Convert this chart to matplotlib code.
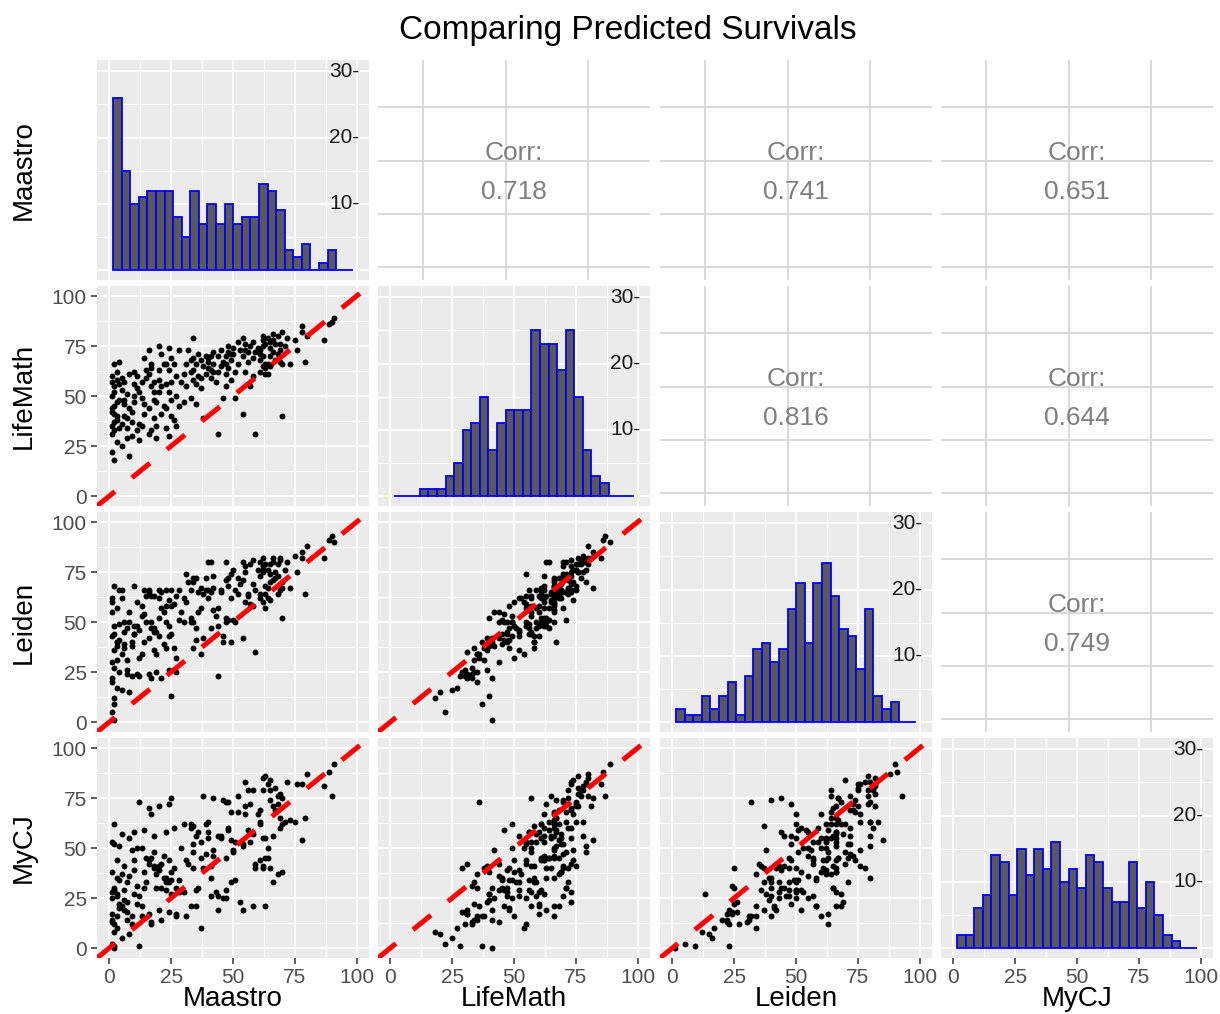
import matplotlib
matplotlib.use('Agg')
import matplotlib.pyplot as plt
import numpy as np
from matplotlib.ticker import MultipleLocator, FixedLocator

plt.rcParams['font.family'] = ['Liberation Sans', 'DejaVu Sans']

# ---------------- data ----------------
variables = ['Maastro', 'LifeMath', 'Leiden', 'MyCJ']

maastro = [1,2,1,3,2,1,2,3,1,2,4,3,2,1,4,2,3,1,2,4,1,3,2,4,1,3,
           5,6,7,5,8,6,7,5,6,8,7,5,6,8,7,
           9,10,11,9,10,11,9,10,11,10,
           12,13,14,12,13,14,15,12,13,14,15,
           16,17,18,16,17,18,16,17,18,16,17,18,
           19,20,21,19,20,21,22,19,20,21,22,20,
           23,24,25,23,24,25,23,24,25,23,24,25,
           26,27,28,26,27,28,29,27,
           30,31,30,32,31,
           33,34,35,33,34,35,36,33,34,35,36,34,
           37,38,37,38,39,37,39,
           40,41,42,40,41,42,43,40,41,42,
           44,45,44,46,45,44,46,
           47,48,47,48,49,47,48,49,47,49,
           50,51,52,50,52,51,53,
           54,55,54,56,55,54,56,55,
           57,58,59,58,57,60,59,58,
           61,62,63,61,62,63,61,62,63,62,61,63,62,
           64,65,66,64,65,66,64,65,67,66,65,67,
           68,69,70,68,69,70,68,69,70,
           71,72,73,
           75,76,
           78,79,80,78,
           87,89,90,91]

lifemath = [22,18,35,40,45,50,55,58,60,66,67,38,33,42,48,52,27,31,37,56,44,62,41,34,57,47,
            36,46,29,53,61,40,51,25,57,44,34,59,48,20,39,
            42,56,60,30,47,54,37,62,33,50,
            36,49,69,28,57,41,63,52,35,46,59,
            61,33,52,44,66,39,73,55,48,31,64,57,
            35,75,55,47,63,41,66,29,52,71,45,58,
            34,63,48,56,74,40,66,30,57,44,52,69,
            38,60,45,66,50,73,57,35,
            61,55,47,73,66,
            62,79,56,68,58,66,71,49,63,46,60,69,
            54,65,68,39,61,59,70,
            64,70,62,67,59,72,57,69,63,66,
            31,65,70,49,73,62,67,
            70,64,55,72,68,61,75,58,66,71,
            74,49,66,71,77,62,73,
            41,73,70,67,76,79,72,62,
            75,60,72,77,55,74,31,69,
            62,78,66,71,75,61,73,80,64,70,68,76,65,
            79,70,72,66,77,81,61,74,68,78,65,76,
            71,67,40,80,73,82,68,76,66,
            75,79,66,
            78,73,
            82,67,80,85,
            78,86,87,89]

leiden = [5,12,20,38,44,60,48,40,43,68,66,31,27,55,41,36,17,22,9,49,30,57,1,25,62,40,
          34,50,24,62,50,39,47,16,45,55,31,66,37,15,26,
          38,44,48,23,44,60,40,68,24,48,
          32,53,66,23,58,40,63,46,34,54,50,
          66,22,45,42,50,36,65,63,47,24,47,63,
          34,66,57,45,52,22,55,25,62,65,39,43,
          37,48,58,66,61,13,58,26,44,50,43,66,
          37,63,51,59,32,66,55,25,
          62,74,50,70,60,
          52,70,47,66,37,72,65,50,50,41,55,72,
          34,64,67,42,66,57,72,
          80,65,73,66,47,67,53,62,80,56,
          23,65,57,43,66,48,40,
          80,51,50,72,62,52,68,40,71,74,
          76,50,64,51,72,66,69,
          42,78,71,63,75,80,64,60,
          79,58,66,81,59,76,35,69,
          62,75,68,80,76,64,73,82,57,78,64,79,60,
          76,74,71,62,79,82,67,70,72,80,61,75,
          73,66,52,79,81,67,64,82,70,
          76,80,67,
          83,75,
          85,64,88,82,
          82,91,93,90]

mycj = [2,8,14,27,30,38,52,35,28,62,51,16,12,25,20,29,10,17,1,34,13,44,0,22,53,26,
        21,29,18,37,55,24,33,5,41,36,14,57,19,7,23,
        49,58,22,12,39,50,16,27,31,44,
        73,50,38,1,21,30,45,26,16,59,33,
        44,13,56,42,67,41,70,12,40,17,45,48,
        37,71,42,30,19,14,46,40,39,30,35,41,
        33,72,34,58,44,27,35,18,75,29,33,38,
        40,17,34,60,16,28,50,30,
        62,44,28,42,16,
        60,48,29,21,61,56,30,62,40,21,58,52,
        10,76,45,40,62,53,47,
        63,41,46,58,26,75,28,55,35,49,
        19,56,26,25,55,56,74,
        73,59,25,60,54,29,73,33,45,68,
        49,34,68,48,76,53,23,
        19,83,52,59,71,51,79,67,
        72,21,40,79,53,67,42,57,
        44,79,21,63,41,55,69,85,45,40,62,86,55,
        82,74,33,50,79,71,45,84,69,56,40,80,
        72,65,38,76,60,75,37,77,62,
        63,83,64,
        63,82,
        54,65,87,82,
        81,88,76,92]

# histogram bin counts
hist_maastro = [26,15,10,11,12,12,12,8,5,12,7,10,7,10,7,8,8,13,12,9,3,2,4,0,1,3,0,0]
hist_lifemath = [0,0,0,1,1,1,3,5,10,11,15,7,11,13,13,13,25,23,23,19,25,15,7,3,2,0,0,0]
hist_leiden = [2,1,1,4,2,4,6,1,7,11,12,9,11,17,21,12,21,24,19,14,13,8,17,4,2,3,0,0]
hist_mycj = [2,2,6,8,14,13,8,15,11,15,12,16,10,12,9,14,13,9,7,7,13,6,10,5,2,1,0,0]
bin_start = 1.5
bin_width = 3.47

# correlations (upper triangle, row-major)
corr_pairs = [(0, 1), (0, 2), (0, 3), (1, 2), (1, 3), (2, 3)]
corr_labels = ['0.718', '0.741', '0.651', '0.816', '0.644', '0.749']

hist_ticks = [10, 20, 30]
title = 'Comparing Predicted Survivals'

# ---------------- layout ----------------
W, H = 1220, 1014
fig = plt.figure(figsize=(W / 100, H / 100), dpi=100)
col_left = [97, 378, 660, 941]
row_top = [60, 286, 512, 738]
pw, ph = 272, 220
PANEL_BG = '#EBEBEB'
TICK_COLOR = '#333333'
LABEL_COLOR = '#4d4d4d'

data = [maastro, lifemath, leiden, mycj]
hists = [hist_maastro, hist_lifemath, hist_leiden, hist_mycj]
corr_map = dict(zip(corr_pairs, corr_labels))


def add_ax(r, c):
    x0 = col_left[c]
    y0 = row_top[r]
    return fig.add_axes([x0 / W, 1 - (y0 + ph) / H, pw / W, ph / H])


def style_gg(ax):
    ax.set_facecolor(PANEL_BG)
    for sp in ax.spines.values():
        sp.set_visible(False)
    ax.set_axisbelow(True)
    ax.grid(which='major', color='white', linewidth=1.3)
    ax.grid(which='minor', color='white', linewidth=0.65)
    ax.tick_params(axis='both', which='major', length=4.3, width=1.1,
                   color=TICK_COLOR, labelsize=15, labelcolor=LABEL_COLOR, pad=3)
    ax.tick_params(axis='both', which='minor', length=0)


for r in range(4):
    for c in range(4):
        ax = add_ax(r, c)
        if r > c:
            style_gg(ax)
            ax.set_xlim(-5, 105)
            ax.set_ylim(-5, 105)
            ax.xaxis.set_major_locator(MultipleLocator(25))
            ax.xaxis.set_minor_locator(MultipleLocator(12.5))
            ax.yaxis.set_major_locator(MultipleLocator(25))
            ax.yaxis.set_minor_locator(MultipleLocator(12.5))
            ax.scatter(data[c], data[r], s=18, color='black', linewidths=0, zorder=3)
            ax.axline((0, 0), slope=1, color='#FF0000', linewidth=3.6,
                      linestyle=(0, (4.6, 4.4)), dash_capstyle='butt', zorder=4)
            ax.tick_params(axis='y', left=(c == 0), labelleft=(c == 0))
            ax.tick_params(axis='x', bottom=(r == 3), labelbottom=(r == 3))
        elif r == c:
            style_gg(ax)
            ax.set_xlim(-5, 105)
            ax.set_ylim(-1.5, 31.7)
            ax.xaxis.set_major_locator(MultipleLocator(25))
            ax.xaxis.set_minor_locator(MultipleLocator(12.5))
            ax.yaxis.set_major_locator(MultipleLocator(10))
            ax.yaxis.set_minor_locator(MultipleLocator(5))
            counts = hists[r]
            edges = bin_start + bin_width * np.arange(len(counts))
            ax.bar(edges, counts, width=bin_width, align='edge', color='#595959',
                   edgecolor='#0000FF', linewidth=1.3, zorder=3)
            for v in hist_ticks:
                ax.text(0.965, v, f'{v}-', transform=ax.get_yaxis_transform(),
                        ha='right', va='center', fontsize=15, color='#1a1a1a', zorder=5)
            ax.tick_params(axis='y', left=False, labelleft=False)
            ax.tick_params(axis='x', bottom=(r == 3), labelbottom=(r == 3))
        else:
            ax.set_facecolor('white')
            for sp in ax.spines.values():
                sp.set_visible(False)
            ax.set_xlim(11.35, 93.6)
            ax.set_ylim(-5.9, 97.2)
            ax.xaxis.set_major_locator(FixedLocator([25, 50, 75]))
            ax.yaxis.set_major_locator(FixedLocator([0, 25, 50, 75]))
            ax.grid(which='major', color='#d9d9d9', linewidth=1.4)
            ax.tick_params(axis='both', which='both', length=0,
                           labelleft=False, labelbottom=False)
            ax.text(0.5, 1 - 100 / ph, 'Corr:', transform=ax.transAxes,
                    ha='center', va='baseline', fontsize=19, color='#7f7f7f')
            ax.text(0.5, 1 - 139 / ph, corr_map[(r, c)], transform=ax.transAxes,
                    ha='center', va='baseline', fontsize=19, color='#7f7f7f')

# variable labels along the bottom and the left
for i, name in enumerate(variables):
    cx = (col_left[i] + pw / 2) / W
    fig.text(cx, 1 - 1006 / H, name, ha='center', va='baseline', fontsize=20, color='black')
    cy = 1 - (row_top[i] + ph / 2) / H
    fig.text(24 / W, cy, name, ha='center', va='center', rotation=90, fontsize=20, color='black')

fig.text(628 / W, 1 - 39.3 / H, title, ha='center', va='baseline', fontsize=24, color='black')

fig.savefig('out.png', dpi=100, facecolor='white')
